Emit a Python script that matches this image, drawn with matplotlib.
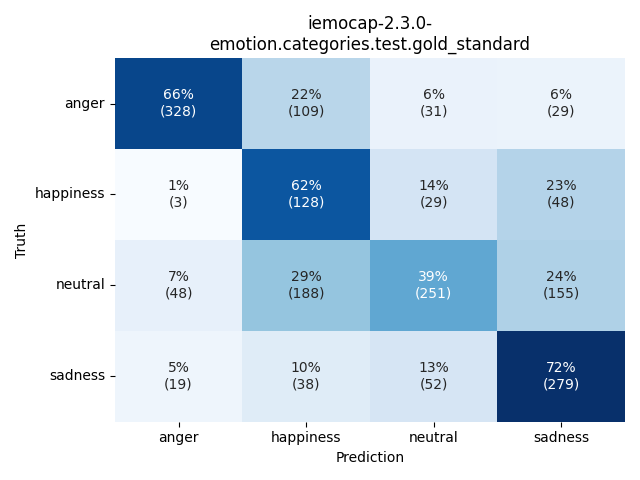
import numpy as np
import matplotlib
matplotlib.use("Agg")
import matplotlib.pyplot as plt
import seaborn as sns

labels = ["anger", "happiness", "neutral", "sadness"]
counts = np.array([
    [328, 109, 31, 29],
    [3, 128, 29, 48],
    [48, 188, 251, 155],
    [19, 38, 52, 279],
])

# row-normalised percentages
perc = counts / counts.sum(axis=1, keepdims=True) * 100
annot = np.array([["{:.0f}%\n({})".format(p, c) for p, c in zip(pr, cr)]
                  for pr, cr in zip(perc, counts)])

fig, ax = plt.subplots(figsize=(6.4, 4.8), dpi=100)
sns.heatmap(perc, annot=annot, fmt="", cmap="Blues", cbar=False,
            xticklabels=labels, yticklabels=labels, ax=ax)
ax.set_title("iemocap-2.3.0-\nemotion.categories.test.gold_standard")
ax.set_xlabel("Prediction")
ax.set_ylabel("Truth")
plt.yticks(rotation=0)
plt.tight_layout()
plt.savefig("out.png")
